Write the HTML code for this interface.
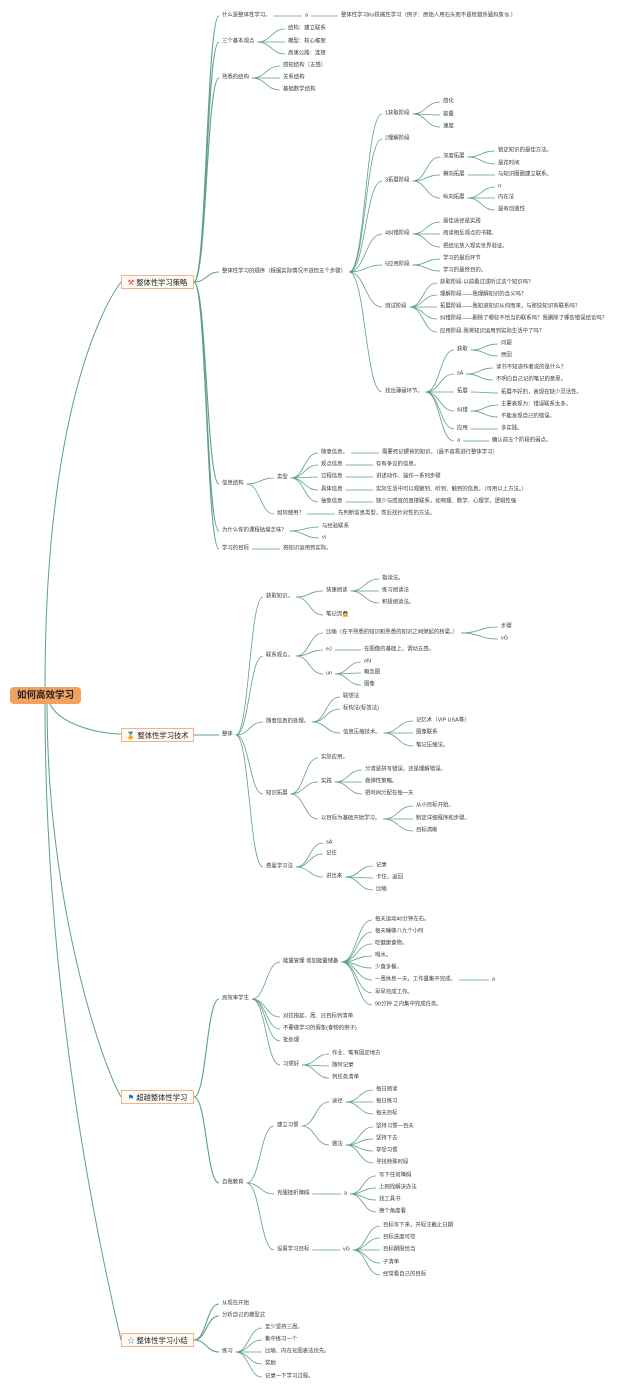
<!DOCTYPE html>
<html><head><meta charset="utf-8">
<style>
html,body{margin:0;padding:0;background:#fff;}
body{width:640px;height:1393px;position:relative;overflow:hidden;font-family:"Liberation Sans","Noto Sans CJK SC",sans-serif;}
.t{position:absolute;font-size:5.4px;line-height:1;color:#3a3a3a;white-space:nowrap;transform:translateY(-50%);}
.s{position:absolute;height:14px;line-height:14px;width:73px;border:1px solid #efb48a;background:#fffaf4;font-size:7.3px;color:#222;text-align:center;transform:translateY(-50%);box-sizing:border-box;}
.root{position:absolute;left:10px;top:687px;width:71px;height:17px;line-height:17px;background:#f2a25e;border-radius:4px;font-size:9.5px;font-weight:bold;color:#222;text-align:center;}
svg{position:absolute;left:0;top:0;}
</style></head><body>
<svg id="g" width="640" height="1393" viewBox="0 0 640 1393">
<g fill="none" stroke="#5e9f8c" stroke-width="1">
<path d="M45 687 C45 420 100 310 121 282"/>
<path d="M50 704 C60 725 100 734 121 734"/>
<path d="M47 704 C47 900 100 1060 121 1097"/>
<path d="M45 704 C45 1000 100 1250 121 1340"/>
</g>
</svg>
<div class="root">如何高效学习</div>
<div class="s" id="s1" style="left:121px;top:282px"><span style="color:#d33">⚒</span> 整体性学习策略</div>
<div class="s" id="s2" style="left:121px;top:735px"><span style="color:#e8b030">🏅</span> 整体性学习技术</div>
<div class="s" id="s3" style="left:121px;top:1097px"><span style="color:#1a6fc0">⚑</span> 超越整体性学习</div>
<div class="s" id="s4" style="left:121px;top:1340px"><span style="color:#2a88d0">☆</span> 整体性学习小结</div>

<div class="t" id="a1" style="left:222px;top:16px">什么是整体性学习。</div>
<div class="t" id="a1x" style="left:305px;top:16px">a</div>
<div class="t" id="a1y" style="left:341px;top:16px">整体性学习Ko机械性学习（例子：原始人用石头而不是枪猎杀猛犸象<span style="color:#a33">🐘</span>）</div>
<div class="t" id="a2" style="left:222px;top:42px">三个基本观点</div>
<div class="t" id="a2a" style="left:288px;top:29px">结构：建立联系</div>
<div class="t" id="a2b" style="left:288px;top:42px">模型：核心框架</div>
<div class="t" id="a2c" style="left:288px;top:54px">高速公路：连接</div>
<div class="t" id="a3" style="left:222px;top:78px">熟悉的结构</div>
<div class="t" id="a3a" style="left:283px;top:66px">感知结构（五感）</div>
<div class="t" id="a3b" style="left:283px;top:78px">关系结构</div>
<div class="t" id="a3c" style="left:283px;top:90px">基础数学结构</div>
<div class="t" id="a4" style="left:222px;top:272px">整体性学习的顺序（根据实际情况不进但五个步骤）</div>
<div class="t" id="b1" style="left:385px;top:114px">1获取阶段</div>
<div class="t" id="b1a" style="left:443px;top:102px">简化</div>
<div class="t" id="b1b" style="left:443px;top:115px">容量</div>
<div class="t" id="b1c" style="left:443px;top:127px">速度</div>
<div class="t" id="b2" style="left:385px;top:139px">2理解阶段</div>
<div class="t" id="b3" style="left:385px;top:181px">3拓展阶段</div>
<div class="t" id="b3a" style="left:443px;top:157px">深度拓展</div>
<div class="t" id="b3b" style="left:443px;top:175px">横向拓展</div>
<div class="t" id="b3c" style="left:443px;top:198px">纵向拓展</div>
<div class="t" id="b3a1" style="left:498px;top:151px">锁定知识的最佳方法。</div>
<div class="t" id="b3a2" style="left:498px;top:164px">最花时间</div>
<div class="t" id="b3b1" style="left:498px;top:175px">与知识圈圈建立联系。</div>
<div class="t" id="b3c1" style="left:498px;top:187px">rr</div>
<div class="t" id="b3c2" style="left:498px;top:198px">内在法</div>
<div class="t" id="b3c3" style="left:498px;top:210px">最有创造性</div>
<div class="t" id="b4" style="left:385px;top:234px">4纠错阶段</div>
<div class="t" id="b4a" style="left:443px;top:222px">最佳途径是实践</div>
<div class="t" id="b4b" style="left:443px;top:234px">阅读相反观点的书籍。</div>
<div class="t" id="b4c" style="left:443px;top:247px">把结论放入现实世界验证。</div>
<div class="t" id="b5" style="left:385px;top:265px">5应用阶段</div>
<div class="t" id="b5a" style="left:443px;top:259px">学习的最后环节</div>
<div class="t" id="b5b" style="left:443px;top:271px">学习的最终目的。</div>
<div class="t" id="b6" style="left:385px;top:307px">测试阶段</div>
<div class="t" id="b6a" style="left:440px;top:283px">获取阶段-以前看过或听过这个知识吗？</div>
<div class="t" id="b6b" style="left:440px;top:295px">理解阶段——我理解知识的含义吗？</div>
<div class="t" id="b6c" style="left:440px;top:307px">拓展阶段——我知道知识从何而来，与那些知识有联系吗？</div>
<div class="t" id="b6d" style="left:440px;top:319px">纠错阶段——删除了哪些不恰当的联系吗？我删除了哪些错误结论吗？</div>
<div class="t" id="b6e" style="left:440px;top:332px">应用阶段-我将知识运用到实际生活中了吗？</div>
<div class="t" id="b7" style="left:385px;top:392px">找出薄弱环节。</div>
<div class="t" id="c1" style="left:457px;top:350px">获取</div>
<div class="t" id="c1a" style="left:501px;top:344px">问题</div>
<div class="t" id="c1b" style="left:501px;top:356px">原因</div>
<div class="t" id="c2" style="left:457px;top:374px">sA</div>
<div class="t" id="c2a" style="left:496px;top:368px">读书不知道作者说的是什么？</div>
<div class="t" id="c2b" style="left:496px;top:380px">不明白自己记的笔记的意思。</div>
<div class="t" id="c3" style="left:457px;top:392px">拓展</div>
<div class="t" id="c3a" style="left:501px;top:393px">拓展不好的，表现在缺少灵活性。</div>
<div class="t" id="c4" style="left:457px;top:411px">纠错</div>
<div class="t" id="c4a" style="left:501px;top:405px">主要表现为：错误联系太多。</div>
<div class="t" id="c4b" style="left:501px;top:417px">不能发现自己的错误。</div>
<div class="t" id="c5" style="left:457px;top:429px">应用</div>
<div class="t" id="c5a" style="left:501px;top:429px">多实践。</div>
<div class="t" id="c6" style="left:457px;top:441px">a</div>
<div class="t" id="c6a" style="left:492px;top:441px">确认前五个阶段的弱点。</div>
<div class="t" id="a5" style="left:222px;top:484px">信息结构</div>
<div class="t" id="a5a" style="left:277px;top:478px">类型</div>
<div class="t" id="d1" style="left:321px;top:453px">随意信息。</div>
<div class="t" id="d2" style="left:321px;top:465px">观点信息</div>
<div class="t" id="d3" style="left:321px;top:477px">过程信息</div>
<div class="t" id="d4" style="left:321px;top:490px">具体信息</div>
<div class="t" id="d5" style="left:321px;top:502px">抽象信息</div>
<div class="t" id="d1x" style="left:382px;top:453px">需要死记硬背的知识。（最不容易进行整体学习）</div>
<div class="t" id="d2x" style="left:376px;top:465px">存有争议的信息。</div>
<div class="t" id="d3x" style="left:376px;top:477px">讲述动作、操作一系列步骤</div>
<div class="t" id="d4x" style="left:376px;top:490px">实际生活中可以观察到、听到、触到的信息。（可用以上方法。）</div>
<div class="t" id="d5x" style="left:376px;top:502px">缺少与感官的直接联系，如物理、数学、心理学，逻辑性强</div>
<div class="t" id="a5b" style="left:277px;top:514px">如何使用？</div>
<div class="t" id="a5b1" style="left:338px;top:514px">先判断信息类型，然后找针对性的方法。</div>
<div class="t" id="a6" style="left:222px;top:531px">为什么你的课程枯燥乏味？</div>
<div class="t" id="a6a" style="left:322px;top:527px">与经验联系</div>
<div class="t" id="a6b" style="left:322px;top:538px">vi</div>
<div class="t" id="a7" style="left:222px;top:549px">学习的目标</div>
<div class="t" id="a7a" style="left:283px;top:549px">将知识运用到实际。</div>

<div class="t" id="z" style="left:222px;top:735px">整体</div>
<div class="t" id="e1" style="left:266px;top:597px">获取知识。</div>
<div class="t" id="e1a" style="left:326px;top:591px">快速阅读</div>
<div class="t" id="e1a1" style="left:382px;top:579px">指读法。</div>
<div class="t" id="e1a2" style="left:382px;top:591px">练习阅读法</div>
<div class="t" id="e1a3" style="left:382px;top:603px">积极阅读法。</div>
<div class="t" id="e1b" style="left:326px;top:615px">笔记流<span style="color:#a55">🙍</span></div>
<div class="t" id="e2" style="left:266px;top:656px">联系观点。</div>
<div class="t" id="e2a" style="left:326px;top:633px">比喻（在不熟悉的知识和熟悉的知识之间架起的桥梁。）</div>
<div class="t" id="e2a1" style="left:501px;top:627px">步骤</div>
<div class="t" id="e2a2" style="left:501px;top:639px">vG</div>
<div class="t" id="e2b" style="left:326px;top:650px">eJ</div>
<div class="t" id="e2b1" style="left:364px;top:650px">在图像的基础上，调动五感。</div>
<div class="t" id="e2c" style="left:326px;top:674px">un</div>
<div class="t" id="e2c1" style="left:364px;top:662px">eN</div>
<div class="t" id="e2c2" style="left:364px;top:673px">概念图</div>
<div class="t" id="e2c3" style="left:364px;top:685px">图像</div>
<div class="t" id="e3" style="left:266px;top:722px">随意信息的处理。</div>
<div class="t" id="e3a" style="left:343px;top:697px">联想法</div>
<div class="t" id="e3b" style="left:343px;top:709px">标钩法(标签法)</div>
<div class="t" id="e3c" style="left:343px;top:733px">信息压缩技术。</div>
<div class="t" id="e3c1" style="left:416px;top:721px">记忆术（VIP USA等）</div>
<div class="t" id="e3c2" style="left:416px;top:733px">图像联系</div>
<div class="t" id="e3c3" style="left:416px;top:746px">笔记压缩法。</div>
<div class="t" id="e4" style="left:266px;top:794px">知识拓展</div>
<div class="t" id="e4a" style="left:321px;top:758px">实际应用。</div>
<div class="t" id="e4b" style="left:321px;top:782px">实践</div>
<div class="t" id="e4b1" style="left:365px;top:770px">分清是拼写错误，还是理解错误。</div>
<div class="t" id="e4b2" style="left:365px;top:782px">做弹性策略。</div>
<div class="t" id="e4b3" style="left:365px;top:794px">把时间分配在每一天</div>
<div class="t" id="e4c" style="left:321px;top:819px">以目标为基础开始学习。</div>
<div class="t" id="e4c1" style="left:416px;top:806px">从小目标开始。</div>
<div class="t" id="e4c2" style="left:416px;top:819px">制定详细程序和步骤。</div>
<div class="t" id="e4c3" style="left:416px;top:831px">目标清晰</div>
<div class="t" id="e5" style="left:266px;top:867px">费曼学习法</div>
<div class="t" id="e5a" style="left:326px;top:843px">sA</div>
<div class="t" id="e5b" style="left:326px;top:854px">记住</div>
<div class="t" id="e5c" style="left:326px;top:877px">讲出来</div>
<div class="t" id="e5c1" style="left:376px;top:866px">记录</div>
<div class="t" id="e5c2" style="left:376px;top:878px">卡住，返回</div>
<div class="t" id="e5c3" style="left:376px;top:890px">比喻</div>

<div class="t" id="f1" style="left:222px;top:999px">高效率学生</div>
<div class="t" id="f1a" style="left:283px;top:962px">能量管理 增加能量储备</div>
<div class="t" id="f1a1" style="left:375px;top:920px">每天运动40分钟左右。</div>
<div class="t" id="f1a2" style="left:375px;top:932px">每天睡够八九个小时</div>
<div class="t" id="f1a3" style="left:375px;top:944px">吃健康食物。</div>
<div class="t" id="f1a4" style="left:375px;top:956px">喝水。</div>
<div class="t" id="f1a5" style="left:375px;top:968px">少食多餐。</div>
<div class="t" id="f1a6" style="left:375px;top:980px">一周休息一天，工作量集中完成。</div>
<div class="t" id="f1a6x" style="left:492px;top:980px">a</div>
<div class="t" id="f1a7" style="left:375px;top:993px">早早完成工作。</div>
<div class="t" id="f1a8" style="left:375px;top:1005px">90分钟 之内集中完成任务。</div>
<div class="t" id="f1b" style="left:283px;top:1017px">对抗拖延，周、日目标列清单</div>
<div class="t" id="f1c" style="left:283px;top:1029px">不要做学习的假象(食物的例子)</div>
<div class="t" id="f1d" style="left:283px;top:1041px">批处理</div>
<div class="t" id="f1e" style="left:283px;top:1065px">习惯好</div>
<div class="t" id="f1e1" style="left:332px;top:1054px">作业、笔有固定地方</div>
<div class="t" id="f1e2" style="left:332px;top:1066px">随时记录</div>
<div class="t" id="f1e3" style="left:332px;top:1078px">列任务清单</div>
<div class="t" id="f2" style="left:222px;top:1183px">自我教育</div>
<div class="t" id="g1" style="left:277px;top:1126px">建立习惯</div>
<div class="t" id="g1a" style="left:332px;top:1102px">途径</div>
<div class="t" id="g1a1" style="left:376px;top:1090px">每日阅读</div>
<div class="t" id="g1a2" style="left:376px;top:1102px">每日练习</div>
<div class="t" id="g1a3" style="left:376px;top:1114px">每天目标</div>
<div class="t" id="g1b" style="left:332px;top:1145px">做法</div>
<div class="t" id="g1b1" style="left:376px;top:1127px">坚持习惯一百天</div>
<div class="t" id="g1b2" style="left:376px;top:1139px">坚持下去</div>
<div class="t" id="g1b3" style="left:376px;top:1151px">享受习惯</div>
<div class="t" id="g1b4" style="left:376px;top:1163px">寻找特殊时段</div>
<div class="t" id="g2" style="left:277px;top:1194px">克服挫折障碍</div>
<div class="t" id="g2a" style="left:344px;top:1194px">a</div>
<div class="t" id="g2a1" style="left:379px;top:1176px">写下任何障碍</div>
<div class="t" id="g2a2" style="left:379px;top:1188px">上网找解决办法</div>
<div class="t" id="g2a3" style="left:379px;top:1200px">找工具书</div>
<div class="t" id="g2a4" style="left:379px;top:1212px">换个角度看</div>
<div class="t" id="g3" style="left:277px;top:1250px">设置学习目标</div>
<div class="t" id="g3a" style="left:343px;top:1250px">vG</div>
<div class="t" id="g3a1" style="left:383px;top:1226px">目标写下来，并标注截止日期</div>
<div class="t" id="g3a2" style="left:383px;top:1238px">目标进度可控</div>
<div class="t" id="g3a3" style="left:383px;top:1250px">目标期限恰当</div>
<div class="t" id="g3a4" style="left:383px;top:1263px">子清单</div>
<div class="t" id="g3a5" style="left:383px;top:1275px">经常看自己的目标</div>

<div class="t" id="h1" style="left:222px;top:1304px">从现在开始</div>
<div class="t" id="h2" style="left:222px;top:1316px">分析自己的模型式</div>
<div class="t" id="h3" style="left:222px;top:1352px">练习</div>
<div class="t" id="h31" style="left:265px;top:1328px">至少坚持三周。</div>
<div class="t" id="h32" style="left:265px;top:1340px">集中练习一个</div>
<div class="t" id="h33" style="left:265px;top:1352px">比喻、内在化图表法优先。</div>
<div class="t" id="h34" style="left:265px;top:1364px">奖励</div>
<div class="t" id="h35" style="left:265px;top:1377px">记录一下学习过程。</div>

<script>
(function(){
var E=[
["s1","a1","a2","a3","a4","a5","a6","a7"],["a1","a1x"],["a1x","a1y"],["a2","a2a","a2b","a2c"],["a3","a3a","a3b","a3c"],
["a4","b1","b2","b3","b4","b5","b6","b7"],["b1","b1a","b1b","b1c"],["b3","b3a","b3b","b3c"],["b3a","b3a1","b3a2"],["b3b","b3b1"],["b3c","b3c1","b3c2","b3c3"],
["b4","b4a","b4b","b4c"],["b5","b5a","b5b"],["b6","b6a","b6b","b6c","b6d","b6e"],["b7","c1","c2","c3","c4","c5","c6"],
["c1","c1a","c1b"],["c2","c2a","c2b"],["c3","c3a"],["c4","c4a","c4b"],["c5","c5a"],["c6","c6a"],
["a5","a5a","a5b"],["a5a","d1","d2","d3","d4","d5"],["d1","d1x"],["d2","d2x"],["d3","d3x"],["d4","d4x"],["d5","d5x"],["a5b","a5b1"],
["a6","a6a","a6b"],["a7","a7a"],
["s2","z"],["z","e1","e2","e3","e4","e5"],["e1","e1a","e1b"],["e1a","e1a1","e1a2","e1a3"],["e2","e2a","e2b","e2c"],["e2a","e2a1","e2a2"],["e2b","e2b1"],["e2c","e2c1","e2c2","e2c3"],
["e3","e3a","e3b","e3c"],["e3c","e3c1","e3c2","e3c3"],["e4","e4a","e4b","e4c"],["e4b","e4b1","e4b2","e4b3"],["e4c","e4c1","e4c2","e4c3"],["e5","e5a","e5b","e5c"],["e5c","e5c1","e5c2","e5c3"],
["s3","f1","f2"],["f1","f1a","f1b","f1c","f1d","f1e"],["f1a","f1a1","f1a2","f1a3","f1a4","f1a5","f1a6","f1a7","f1a8"],["f1a6","f1a6x"],["f1e","f1e1","f1e2","f1e3"],
["f2","g1","g2","g3"],["g1","g1a","g1b"],["g1a","g1a1","g1a2","g1a3"],["g1b","g1b1","g1b2","g1b3","g1b4"],["g2","g2a"],["g2a","g2a1","g2a2","g2a3","g2a4"],["g3","g3a"],["g3a","g3a1","g3a2","g3a3","g3a4","g3a5"],
["s4","h1","h2","h3"],["h3","h31","h32","h33","h34","h35"]
];
var svg=document.getElementById("g"),ns="http://www.w3.org/2000/svg",d="";
var big={s1:1,s2:1,s3:1,s4:1};
E.forEach(function(r){
 var p=document.getElementById(r[0]).getBoundingClientRect();
 for(var i=1;i<r.length;i++){
  var c=document.getElementById(r[i]).getBoundingClientRect();
  var x1=p.right+(big[r[0]]?0:3),y1=(p.top+p.bottom)/2,x2=c.left-3,y2=(c.top+c.bottom)/2;
  var m=x1+(x2-x1)*0.5;
  var path=document.createElementNS(ns,"path");
  path.setAttribute("d","M"+x1+" "+y1+" C"+m+" "+y1+" "+m+" "+y2+" "+x2+" "+y2);
  path.setAttribute("fill","none");path.setAttribute("stroke","#5e9f8c");
  path.setAttribute("stroke-width",big[r[0]]?"1.1":"0.8");
  svg.appendChild(path);
 }
});
})();
</script>
</body></html>
